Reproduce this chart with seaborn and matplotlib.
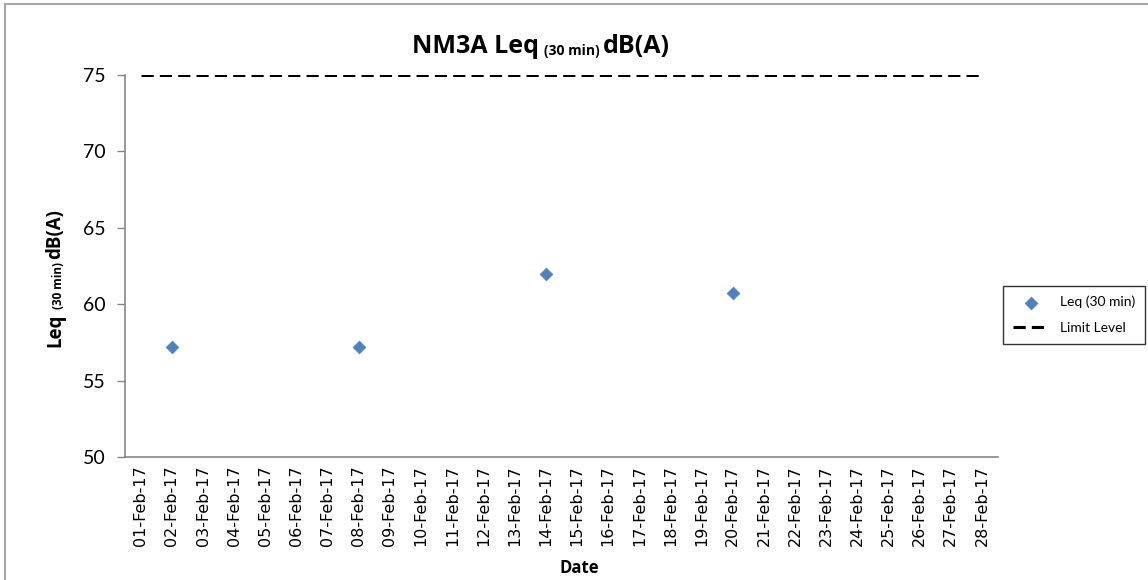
import matplotlib
matplotlib.use("Agg")
import matplotlib.pyplot as plt
from matplotlib.lines import Line2D
import seaborn as sns
import pandas as pd

# date categories along the x axis
dates = [f"{d:02d}-Feb-17" for d in range(1, 29)]

# measured Leq (30 min) values
meas_dates = ["02-Feb-17", "08-Feb-17", "14-Feb-17", "20-Feb-17"]
meas_values = [57.2, 57.2, 62.0, 60.7]

# limit level
limit_value = 75

y_ticks = [50, 55, 60, 65, 70, 75]

sns.set_theme(style="white")
plt.rcParams["font.family"] = ["Lato", "DejaVu Sans"]
plt.rcParams["text.color"] = "black"
plt.rcParams["axes.labelcolor"] = "black"
plt.rcParams["xtick.labelcolor"] = "black"
plt.rcParams["ytick.labelcolor"] = "black"

W, H = 1148, 580
BOLD_FONT = "Open Sans"


def rich_text(fig, center, base, parts, vertical=False):
    """draw bold text pieces (text, size, shift_px, gap_px) centred on `center`, px from top-left"""
    renderer = fig.canvas.get_renderer()
    items = []
    for s, size, shift, gap in parts:
        t = fig.text(0, 0, s, fontsize=size, fontweight="bold", family=BOLD_FONT,
                     color="black", ha="left", va="baseline",
                     rotation=90 if vertical else 0, rotation_mode="anchor")
        bb = t.get_window_extent(renderer)
        items.append((t, bb.height if vertical else bb.width, shift, gap))
    total = sum(L + g for _, L, _, g in items) - items[-1][3]
    cur = center - total / 2 if not vertical else center + total / 2
    for t, L, shift, gap in items:
        if vertical:
            t.set_position(((base + shift) / W, 1 - cur / H))
            cur -= L + gap
        else:
            t.set_position((cur / W, 1 - (base + shift) / H))
            cur += L + gap


pos = {d: i for i, d in enumerate(dates)}
meas_df = pd.DataFrame({"x": [pos[d] for d in meas_dates], "y": meas_values})
limit_df = pd.DataFrame({"x": list(range(len(dates))), "y": [limit_value] * len(dates)})

fig = plt.figure(figsize=(11.48, 5.80), dpi=100)
ax = fig.add_axes([0.109, 0.212, 0.760, 0.659])

sns.scatterplot(data=meas_df, x="x", y="y", marker="D", s=42, color="#4F81BD",
                edgecolor="#4F81BD", ax=ax, label="Leq (30 min)", zorder=3)
sns.lineplot(data=limit_df, x="x", y="y", color="black", linewidth=2.2,
             linestyle=(0, (4, 2)), ax=ax, label="Limit Level")

ax.set_xlim(-0.5, len(dates) - 0.5)
ax.set_ylim(50, 75)
ax.set_xticks(range(len(dates)))
ax.set_xticklabels(dates, rotation=90, fontsize=11.5, family="DejaVu Sans")
ax.set_yticks(y_ticks)
ax.set_yticklabels([str(v) for v in y_ticks], fontsize=14)
ax.tick_params(axis="y", length=6, width=1, color="#868686", labelcolor="black",
               direction="out", left=True, pad=8)
ax.tick_params(axis="x", length=0, pad=6, labelcolor="black")

for side in ["top", "right"]:
    ax.spines[side].set_visible(False)
for side in ["left", "bottom"]:
    ax.spines[side].set_color("#868686")
    ax.spines[side].set_linewidth(1.2)

ax.set_xlabel("")
ax.set_ylabel("")

# title, y label and x label built from pieces (subscripted "(30 min)")
rich_text(fig, 541, 53, [("NM3A Leq", 18, 0, 5), ("(30 min)", 10, 2, 3), ("dB(A)", 18, 0, 0)])
rich_text(fig, 278, 60, [("Leq", 13.5, 0, 4), ("(30 min)", 8.5, 2, 3), ("dB(A)", 13.5, 0, 0)],
          vertical=True)
fig.text(579 / W, 1 - 573 / H, "Date", fontsize=12, fontweight="bold", family=BOLD_FONT,
         color="black", ha="center", va="baseline")

leg = ax.legend(loc="center left", bbox_to_anchor=(0.998, 0.372), fontsize=10,
                frameon=True, fancybox=False, edgecolor="black", borderpad=0.7,
                handlelength=2.6, labelspacing=1.0)
leg.get_frame().set_linewidth(1)

# outer chart frame (top and left edges visible)
fig.add_artist(Line2D([0.004, 1.0], [0.993, 0.993], color="#a6a6a6", linewidth=1.5,
                      transform=fig.transFigure))
fig.add_artist(Line2D([0.004, 0.004], [0.0, 0.993], color="#a6a6a6", linewidth=1.5,
                      transform=fig.transFigure))

fig.savefig("out.png", dpi=100)
